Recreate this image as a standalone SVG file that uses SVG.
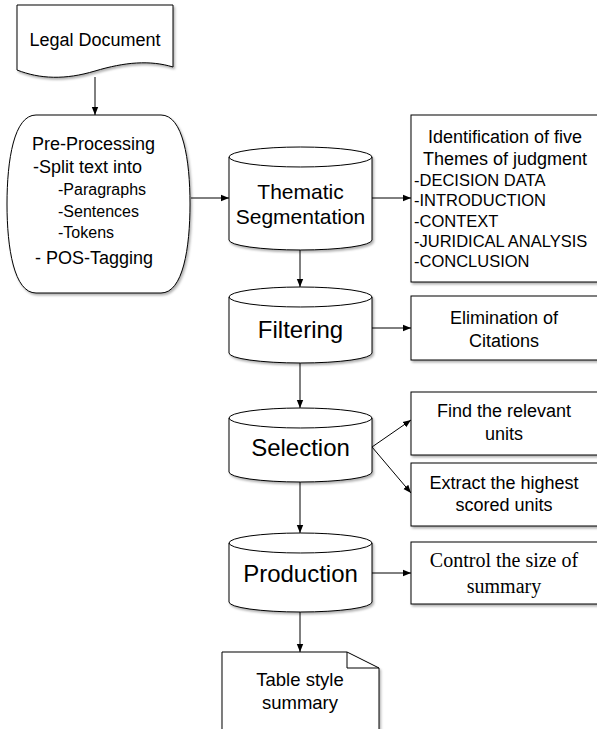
<svg xmlns="http://www.w3.org/2000/svg" width="597" height="729" viewBox="0 0 597 729">
<defs>
<marker id="ah" viewBox="0 0 10 10" refX="10" refY="5" markerWidth="8" markerHeight="8" markerUnits="userSpaceOnUse" orient="auto">
<path d="M0,1 L10,5 L0,9 Z" fill="#000"/>
</marker>
<filter id="sh" x="-10%" y="-10%" width="130%" height="130%">
<feDropShadow dx="1.5" dy="2" stdDeviation="1" flood-color="#000" flood-opacity="0.3"/>
</filter>
</defs>
<style>
.s{fill:#fff;stroke:#000;stroke-width:1;filter:url(#sh)}
.l{fill:none;stroke:#000;stroke-width:1}
.e{stroke:#000;stroke-width:1;fill:none;marker-end:url(#ah)}
text{font-family:"Liberation Sans",Arial,sans-serif;fill:#000}
.c{text-anchor:middle}
.serif{font-family:"Liberation Serif","Times New Roman",serif}
</style>
<rect width="597" height="729" fill="#fff"/>

<g id="connectors">
<line class="e" x1="95" y1="77" x2="95" y2="115"/>
<line class="e" x1="191" y1="198" x2="229" y2="198"/>
<line class="e" x1="372" y1="198" x2="411" y2="198"/>
<line class="e" x1="300" y1="250" x2="300" y2="287"/>
<line class="e" x1="372" y1="328" x2="411" y2="328"/>
<line class="e" x1="300" y1="363" x2="300" y2="408"/>
<line class="e" x1="372" y1="447" x2="411" y2="420"/>
<line class="e" x1="372" y1="447" x2="411" y2="493"/>
<line class="e" x1="300" y1="482" x2="300" y2="533"/>
<line class="e" x1="372" y1="573" x2="411" y2="573"/>
<line class="e" x1="300" y1="612" x2="300" y2="652"/>
</g>

<g id="legal-document">
<path class="s" d="M17,5 H173 V67 C150,60 125,62 95,71 C65,80 40,79 17,70 Z"/>
<text class="c" x="95" y="46" font-size="18">Legal Document</text>
</g>

<g id="pre-processing">
<path class="s" d="M36,115 H161 C183,115 190,160 190,204 C190,248 183,293 161,293 H36 C14,293 7,248 7,204 C7,160 14,115 36,115 Z"/>
<text x="32" y="150" font-size="18">Pre-Processing</text>
<text x="33" y="173" font-size="18">-Split text into</text>
<text x="58" y="195" font-size="16">-Paragraphs</text>
<text x="58" y="217" font-size="16">-Sentences</text>
<text x="58" y="238" font-size="16">-Tokens</text>
<text x="35" y="264" font-size="18">- POS-Tagging</text>
</g>

<g id="thematic-segmentation">
<path class="s" d="M229,157 A71.5,10 0 0 1 372,157 V240 A71.5,10 0 0 1 229,240 Z"/>
<path class="l" d="M229,157 A71.5,10 0 0 0 372,157"/>
<text class="c" x="300.5" y="199" font-size="21">Thematic</text>
<text class="c" x="300.5" y="224" font-size="21">Segmentation</text>
</g>

<g id="themes">
<rect class="s" x="411" y="115" width="188" height="167"/>
<text class="c" x="505" y="143" font-size="18">Identification of five</text>
<text class="c" x="505" y="165" font-size="18">Themes of judgment</text>
<text x="414" y="186" font-size="16.5">-DECISION DATA</text>
<text x="414" y="206" font-size="16.5">-INTRODUCTION</text>
<text x="414" y="227" font-size="16.5">-CONTEXT</text>
<text x="414" y="247" font-size="16.5">-JURIDICAL ANALYSIS</text>
<text x="414" y="267" font-size="16.5">-CONCLUSION</text>
</g>

<g id="filtering">
<path class="s" d="M229,297 A71.5,10 0 0 1 372,297 V353 A71.5,10 0 0 1 229,353 Z"/>
<path class="l" d="M229,297 A71.5,10 0 0 0 372,297"/>
<text class="c" x="300.5" y="338" font-size="24">Filtering</text>
</g>

<g id="elimination">
<rect class="s" x="411" y="296" width="188" height="64"/>
<text class="c" x="504" y="324" font-size="18">Elimination of</text>
<text class="c" x="504" y="347" font-size="18">Citations</text>
</g>

<g id="selection">
<path class="s" d="M229,418 A71.5,10 0 0 1 372,418 V472 A71.5,10 0 0 1 229,472 Z"/>
<path class="l" d="M229,418 A71.5,10 0 0 0 372,418"/>
<text class="c" x="300.5" y="456" font-size="24">Selection</text>
</g>

<g id="find-relevant">
<rect class="s" x="411" y="392" width="188" height="63"/>
<text class="c" x="504" y="417" font-size="18">Find the relevant</text>
<text class="c" x="504" y="440" font-size="18">units</text>
</g>

<g id="extract-highest">
<rect class="s" x="411" y="463" width="188" height="63"/>
<text class="c" x="504" y="489" font-size="18">Extract the highest</text>
<text class="c" x="504" y="511" font-size="18">scored units</text>
</g>

<g id="production">
<path class="s" d="M229,543 A71.5,10 0 0 1 372,543 V602 A71.5,10 0 0 1 229,602 Z"/>
<path class="l" d="M229,543 A71.5,10 0 0 0 372,543"/>
<text class="c" x="300.5" y="582" font-size="24">Production</text>
</g>

<g id="control-size">
<rect class="s" x="411" y="542" width="188" height="62"/>
<text class="c serif" x="504" y="567" font-size="20">Control the size of</text>
<text class="c serif" x="504" y="593" font-size="20">summary</text>
</g>

<g id="table-summary">
<path class="s" d="M222,652 H347 L379,668 V740 H222 Z"/>
<path class="l" d="M347,652 V668 H379"/>
<text class="c" x="300" y="686" font-size="18.5">Table style</text>
<text class="c" x="300" y="709" font-size="18.5">summary</text>
</g>
</svg>
